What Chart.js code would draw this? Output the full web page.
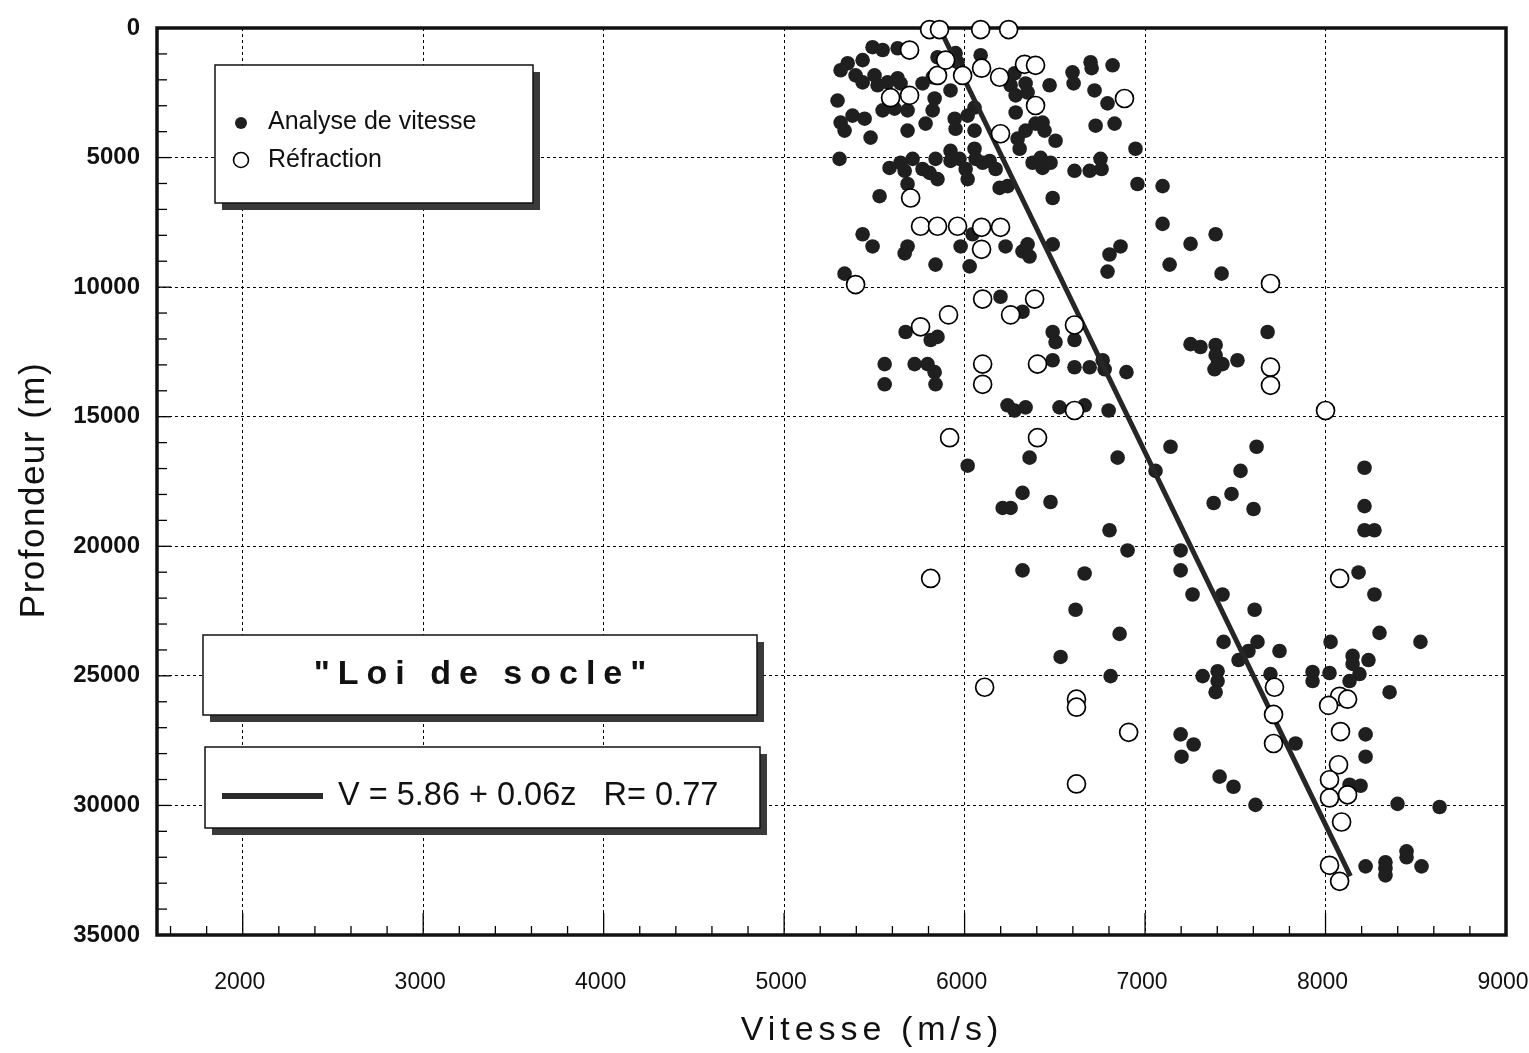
<!DOCTYPE html>
<html>
<head>
<meta charset="utf-8">
<script src="https://cdn.jsdelivr.net/npm/chart.js@4.4.1/dist/chart.umd.min.js"></script>
<style>
  body { margin: 0; background: #fff; }
  #wrap { width: 1529px; height: 1053px; }
</style>
</head>
<body>
<div id="wrap"><canvas id="myChart" width="1529" height="1053"></canvas></div>
<script>
// Analyse de vitesse (filled dots): velocity (m/s) and depth (m)
const analyseV = [5490, 5546, 5629, 5435, 5352, 5313, 5396, 5435, 5501, 5518, 5573, 5629, 5645, 5296, 5546, 5612, 5684, 5767, 5823, 5834,
  5823, 5922, 5850, 5950, 5961, 6089, 6277, 6255, 6283, 6338, 6349, 6471, 6598, 6604, 6698, 6704, 6820, 6720, 6792, 6831,
  6726, 6947, 6958, 5313, 5335, 5379, 5446, 5479, 5684, 5784, 5945, 5950, 6017, 6055, 6055, 6294, 6305, 6338, 6393, 6432,
  6443, 6504, 5307, 5584, 5645, 5712, 5668, 5767, 5806, 5850, 5839, 5922, 5922, 5972, 6006, 6017, 6055, 6061, 6100, 6139,
  6172, 6194, 6238, 6377, 6421, 6432, 6476, 6488, 6609, 6693, 6753, 6759, 5529, 5684, 6044, 5435, 5490, 5684, 5668, 5839,
  5978, 6028, 6227, 6321, 6349, 6360, 6488, 6803, 6864, 6792, 5335, 6199, 6321, 5673, 5812, 5850, 6488, 6504, 6609, 5557,
  5723, 5795, 5834, 5557, 5839, 6488, 6609, 6693, 6765, 6776, 6897, 6238, 6277, 6338, 6526, 6665, 6798, 6017, 6360, 6848,
  6321, 6211, 6255, 6476, 6803, 6903, 6321, 6665, 6615, 6859, 6532, 6809, 7679, 7252, 7307, 7391, 7391, 7402, 7385, 7429,
  7512, 7141, 7618, 7058, 7529, 7479, 7380, 7601, 8216, 8216, 8216, 8271, 7197, 7197, 8183, 7263, 7429, 8271, 7607, 8299,
  8526, 7435, 7623, 7573, 7518, 7745, 8028, 8150, 8150, 8238, 7319, 7402, 7402, 7391, 7695, 7928, 7928, 8022, 8188, 8133,
  8355, 7197, 7202, 7269, 7834, 8222, 8222, 7413, 7490, 8133, 8194, 7612, 8399, 8632, 8222, 8332, 8332, 8332, 8449, 8449,
  8532, 7097, 7097, 7252, 7391, 7136, 7424, 6283];
const analyseZ = [740, 850, 780, 1240, 1360, 1630, 1830, 2100, 1830, 2210, 2100, 1940, 2140, 2800, 3180, 3110, 3180, 2140, 1900, 2720,
  3180, 2410, 1130, 970, 1320, 1050, 1750, 2210, 2600, 2140, 2490, 2210, 1710, 2140, 1320, 1550, 1440, 2410, 2910, 3690,
  3770, 4660, 6020, 3650, 3960, 3380, 3500, 4230, 3960, 3690, 3500, 3890, 3380, 3070, 3960, 4270, 4660, 3960, 3690, 3650,
  3960, 4350, 5050, 5400, 5200, 5050, 5510, 5440, 5590, 5830, 5050, 4740, 5130, 5050, 5440, 5830, 4660, 5050, 5200, 5130,
  5440, 6170, 6100, 5200, 5010, 5400, 5200, 6560, 5510, 5510, 5050, 5440, 6490, 6020, 7960, 7960, 8430, 8430, 8700, 9130,
  8430, 9200, 8430, 8620, 8350, 8820, 8350, 8740, 8430, 9400, 9480, 10370, 10950, 11730, 12040, 11920, 11730, 12120, 12040, 12970,
  12970, 12970, 13280, 13750, 13750, 12820, 13090, 13090, 12820, 13170, 13280, 14560, 14760, 14640, 14640, 14560, 14760, 16890, 16580, 16580,
  17940, 18520, 18520, 18290, 19380, 20160, 20930, 21050, 22450, 23380, 24270, 25010, 11730, 12200, 12310, 12230, 12620, 12970, 13170, 12970,
  12820, 16160, 16160, 17090, 17090, 17980, 18330, 18560, 16970, 18450, 19380, 19380, 20160, 20930, 21010, 21860, 21860, 21860, 22450, 23340,
  23690, 23690, 23690, 24040, 24390, 24040, 23690, 24230, 24540, 24390, 25010, 24820, 25200, 25630, 24930, 24850, 25200, 24890, 24930, 25200,
  25630, 27260, 28120, 27650, 27610, 27260, 28120, 28890, 29280, 29200, 29240, 29980, 29940, 30060, 32350, 32190, 32430, 32700, 31770, 32000,
  32350, 6100, 7560, 8330, 7960, 9130, 9480, 3260];

// Réfraction (open circles)
const refracV = [5806, 5861, 6089, 6244, 5695, 5590, 5695, 5850, 5895, 5989, 6094, 6194, 6332, 6393, 6393, 6886, 6199, 5701, 5756, 5850,
  5961, 6094, 6199, 6094, 5396, 6100, 6388, 5911, 6255, 5756, 6609, 6100, 6100, 6404, 6609, 5917, 6404, 5812, 6111, 6620,
  6620, 6909, 6620, 7695, 7695, 7695, 8000, 8078, 7717, 8078, 8122, 8017, 7712, 8083, 7712, 8072, 8022, 8022, 8122, 8089,
  8022, 8078];
const refracZ = [60, 60, 60, 60, 850, 2690, 2600, 1830, 1240, 1830, 1550, 1900, 1400, 1440, 2990, 2720, 4080, 6560, 7650, 7650,
  7650, 7690, 7690, 8540, 9900, 10460, 10460, 11070, 11070, 11530, 11460, 12970, 13750, 12970, 14760, 15810, 15810, 21240, 25440, 25900,
  26210, 27180, 29170, 9860, 13090, 13790, 14760, 21240, 25440, 25790, 25900, 26140, 26490, 27150, 27610, 28430, 29010, 29710, 29590, 30640,
  32310, 32930];

// "Loi de socle" fitted line, read at its two ends
const loiV = [5861, 8138];
const loiZ = [0, 32730];

const xTicks = [2000, 3000, 4000, 5000, 6000, 7000, 8000, 9000];
const yTicks = [0, 5000, 10000, 15000, 20000, 25000, 30000, 35000];

const toPoints = (xs, ys) => xs.map((x, i) => ({ x: x, y: ys[i] }));

const INK = '#1f1f1f';
const SANS = "'Liberation Sans', Arial, sans-serif";

const framePlugin = {
    id: 'frame',
    beforeDatasetsDraw(chart) {
        const { ctx, chartArea: a, scales } = chart;
        ctx.save();
        ctx.strokeStyle = '#000';
        ctx.lineWidth = 1.3;
        // inward minor ticks on left axis
        for (let v = 1000; v < 35000; v += 1000) {
            const y = scales.y.getPixelForValue(v);
            const len = v % 5000 === 0 ? 14 : 10;
            ctx.beginPath(); ctx.moveTo(a.left, y); ctx.lineTo(a.left + len, y); ctx.stroke();
        }
        // inward ticks on bottom axis
        for (let v = 1600; v < 9000; v += 200) {
            const x = scales.x.getPixelForValue(v);
            const len = v % 1000 === 0 ? 22 : 9;
            ctx.beginPath(); ctx.moveTo(x, a.bottom); ctx.lineTo(x, a.bottom - len); ctx.stroke();
        }
        // thick frame
        ctx.lineWidth = 3.5;
        ctx.strokeStyle = '#111';
        ctx.strokeRect(a.left, a.top, a.right - a.left, a.bottom - a.top);

        // axis titles
        ctx.fillStyle = '#111';
        ctx.textAlign = 'center';
        ctx.textBaseline = 'middle';
        ctx.save();
        ctx.translate(34, 490);
        ctx.rotate(-Math.PI / 2);
        ctx.font = '35px ' + SANS;
        ctx.letterSpacing = '1.5px';
        ctx.fillText('Profondeur (m)', 0, 0);
        ctx.restore();
        ctx.letterSpacing = '5px';
        ctx.font = '34px ' + SANS;
        ctx.fillText('Vitesse (m/s)', 872, 1031);
        ctx.restore();
    },
    afterDraw(chart) {
        const ctx = chart.ctx;
        const box = (x, y, w, h) => {
            ctx.fillStyle = '#3a3a3a';
            ctx.fillRect(x + 7, y + 7, w, h);
            ctx.fillStyle = '#fff';
            ctx.fillRect(x, y, w, h);
            ctx.strokeStyle = '#111';
            ctx.lineWidth = 1.5;
            ctx.strokeRect(x, y, w, h);
        };
        ctx.save();
        // legend box
        box(215, 65, 318, 138);
        ctx.fillStyle = INK;
        ctx.beginPath(); ctx.arc(241, 123, 6, 0, Math.PI * 2); ctx.fill();
        ctx.fillStyle = '#fff';
        ctx.strokeStyle = '#000';
        ctx.lineWidth = 1.6;
        ctx.beginPath(); ctx.arc(241, 160, 7.5, 0, Math.PI * 2); ctx.fill(); ctx.stroke();
        ctx.fillStyle = '#111';
        ctx.font = '25px ' + SANS;
        ctx.textAlign = 'left';
        ctx.textBaseline = 'middle';
        ctx.fillText('Analyse de vitesse', 268, 122);
        ctx.fillText('Réfraction', 268, 160);

        // title box
        box(203, 635, 554, 80);
        ctx.fillStyle = '#111';
        ctx.font = 'bold 34px ' + SANS;
        ctx.letterSpacing = '8px';
        ctx.textAlign = 'center';
        ctx.fillText('"Loi de socle"', 484, 675);
        ctx.letterSpacing = '0px';

        // equation box
        box(205, 747, 555, 81);
        ctx.fillStyle = '#2a2a2a';
        ctx.fillRect(222, 793, 101, 6);
        ctx.fillStyle = '#111';
        ctx.font = '32.5px ' + SANS;
        ctx.textAlign = 'left';
        ctx.fillText('V = 5.86 + 0.06z   R= 0.77', 338, 796);
        ctx.restore();
    }
};

const ctx = document.getElementById('myChart').getContext('2d');
const myChart = new Chart(ctx, {
    type: 'scatter',
    data: {
        datasets: [{
            label: 'Analyse de vitesse',
            data: toPoints(analyseV, analyseZ),
            pointRadius: 7.3,
            pointHoverRadius: 7.3,
            pointBackgroundColor: INK,
            pointBorderColor: INK,
            pointBorderWidth: 0,
            order: 3
        }, {
            type: 'line',
            label: 'Loi de socle',
            data: toPoints(loiV, loiZ),
            borderColor: '#262626',
            borderWidth: 5,
            pointRadius: 0,
            fill: false,
            order: 2
        }, {
            label: 'Réfraction',
            data: toPoints(refracV, refracZ),
            pointRadius: 9,
            pointHoverRadius: 9,
            pointBackgroundColor: '#fff',
            pointBorderColor: '#000',
            pointBorderWidth: 1.7,
            clip: false,
            order: 1
        }]
    },
    options: {
        responsive: false,
        animation: false,
        layout: { padding: { left: 0, right: 23, top: 28, bottom: 0 } },
        plugins: { legend: { display: false }, tooltip: { enabled: false } },
        scales: {
            x: {
                type: 'linear',
                min: 1525,
                max: 9000,
                afterBuildTicks: s => { s.ticks = xTicks.map(v => ({ value: v })); },
                afterFit: s => { s.height = 118; s.paddingLeft = 0; s.paddingRight = 0; },
                grid: { color: '#000', lineWidth: 1, drawTicks: false },
                border: { display: false, dash: [3, 3] },
                ticks: {
                    padding: 34,
                    labelOffset: -3,
                    color: '#111',
                    font: { family: SANS, size: 23 },
                    callback: v => String(v)
                }
            },
            y: {
                type: 'linear',
                reverse: true,
                min: 0,
                max: 35000,
                afterBuildTicks: s => { s.ticks = yTicks.map(v => ({ value: v })); },
                afterFit: s => { s.width = 157; s.paddingTop = 0; s.paddingBottom = 0; },
                grid: { color: '#000', lineWidth: 1, drawTicks: false },
                border: { display: false, dash: [3, 3] },
                ticks: {
                    padding: 17,
                    color: '#111',
                    font: { family: SANS, size: 24, weight: 'bold' },
                    callback: v => String(v)
                }
            }
        }
    },
    plugins: [framePlugin]
});
</script>
</body>
</html>
